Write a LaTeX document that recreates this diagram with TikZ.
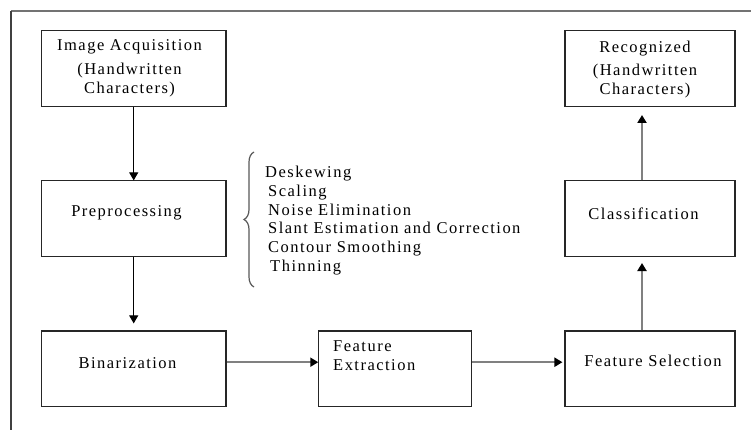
\documentclass[tikz,border=0pt]{standalone}
\usepackage{fontspec}
\setmainfont{Liberation Serif}[LetterSpace=9]
\usetikzlibrary{arrows.meta,decorations.pathreplacing}
\begin{document}
\begin{tikzpicture}[x=1pt,y=-1pt,
  font=\fontsize{16.5}{18.8}\selectfont,
  box/.style={draw=black!85,line width=1.1pt,inner sep=0pt,minimum height=75.5pt},
  lbl/.style={inner sep=0pt,align=center},
  arrK/.style={draw=black,line width=1pt,-{Triangle[length=8pt,width=9pt]}},
  arrG/.style={draw=black!50,line width=2pt,-{Triangle[length=8pt,width=9pt,fill=black,color=black]}}
]
\useasboundingbox[fill=white] (0,0) rectangle (751,430);
% frame
\coordinate (fo) at (11,11);
\coordinate (ftr) at (751,11);
\coordinate (fbl) at (11,430);
\draw[black!55,line width=1.8pt] (fo) -- (ftr);
\draw[black!75,line width=1.2pt] (fo) -- (fbl);
% boxes
\node[box,minimum width=184.5pt] (acq) at (133.7,68.7) {};
\node[box,minimum width=184.5pt] (pre) at (133.7,218.7) {};
\node[box,minimum width=184.5pt] (bin) at (133.7,368.7) {};
\node[box,minimum width=153pt] (fe) at (395.3,368.7) {};
\node[box,minimum width=170pt] (fs) at (650,368.7) {};
\node[box,minimum width=170pt] (cls) at (650,218.7) {};
\node[box,minimum width=170pt] (rec) at (650,68.7) {};
% labels
\node[lbl] (acqT) at (129.5,68.5) {Image Acquisition\\[5pt](Handwritten\\Characters)};
\node[lbl] (preT) at (126.5,213) {Preprocessing};
\node[lbl] (binT) at (127.5,363) {Binarization};
\node[lbl,align=left,anchor=west] (feT) at (333,356) {Feature\\Extraction};
\node[lbl] (fsT) at (653,361) {Feature Selection};
\node[lbl] (clsT) at (643.5,214) {Classification};
\node[lbl] (recT) at (645,69.5) {Recognized\\[4pt](Handwritten\\Characters)};
% brace and list
\coordinate (bb) at (254,287);
\coordinate (bt) at (254,152);
\draw[black!65,line width=1.2pt,decorate,decoration={brace,amplitude=10pt,aspect=0.5}] (bb) -- (bt);
\node[lbl,align=left,anchor=west] (list) at (265,220.5) {Deskewing\\\hspace{3pt}Scaling\\\hspace{3pt}Noise Elimination\\\hspace{3pt}Slant Estimation and Correction\\\hspace{3pt}Contour Smoothing\\\hspace{5pt}Thinning};
% arrows
\draw[arrK] (acq.south) -- (pre.north);
\draw[arrK,shorten >=7pt] (pre.south) -- (bin.north);
\draw[arrG] ([yshift=6.5pt]bin.east) -- ([yshift=6.5pt]fe.west);
\draw[arrG,shorten >=2pt] ([yshift=6.5pt]fe.east) -- ([yshift=6.5pt]fs.west);
\draw[arrG,shorten >=6pt] ([xshift=-8pt]fs.north) -- ([xshift=-8pt]cls.south);
\draw[arrG,shorten >=8pt] ([xshift=-8pt]cls.north) -- ([xshift=-8pt]rec.south);
\end{tikzpicture}
\end{document}
